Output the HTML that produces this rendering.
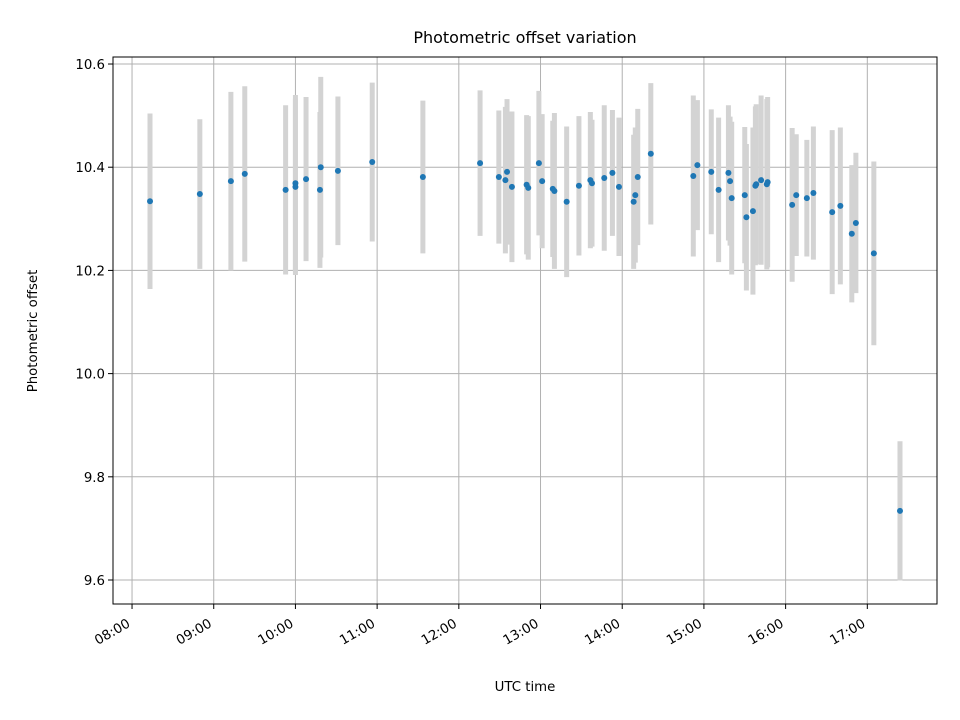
<!DOCTYPE html>
<html><head><meta charset="utf-8"><style>body{margin:0;background:#fff}svg{display:block;font-family:"DejaVu Sans","Liberation Sans",sans-serif}</style></head>
<body>
<svg id="chart" width="960" height="720" viewBox="0 0 960 720" xmlns="http://www.w3.org/2000/svg">
<rect width="960" height="720" fill="#fff"/>
<g id="grid"></g><g id="bars"></g><g id="pts"></g><g id="axes"></g>
<text x="525" y="43" font-size="16" text-anchor="middle">Photometric offset variation</text>
<text x="525" y="691" font-size="13.3" text-anchor="middle">UTC time</text>
<text transform="translate(37,331) rotate(-90)" font-size="13.3" text-anchor="middle">Photometric offset</text>
</svg>
<script>
const times=[8.22,8.83,9.21,9.38,9.88,10.00,10.00,10.13,10.30,10.31,10.52,10.94,11.56,12.26,12.49,12.57,12.59,12.65,12.83,12.85,12.98,13.02,13.15,13.17,13.32,13.47,13.61,13.63,13.78,13.88,13.96,14.14,14.16,14.19,14.35,14.87,14.92,15.09,15.18,15.30,15.32,15.34,15.50,15.52,15.60,15.63,15.64,15.70,15.77,15.78,16.08,16.13,16.26,16.34,16.57,16.67,16.81,16.86,17.08,17.40];
const offsets=[10.334,10.348,10.373,10.387,10.356,10.369,10.362,10.377,10.356,10.400,10.393,10.410,10.381,10.408,10.381,10.375,10.391,10.362,10.366,10.360,10.408,10.373,10.358,10.354,10.333,10.364,10.375,10.369,10.379,10.389,10.362,10.333,10.346,10.381,10.426,10.383,10.404,10.391,10.356,10.389,10.373,10.340,10.346,10.303,10.315,10.364,10.367,10.375,10.367,10.371,10.327,10.346,10.340,10.350,10.313,10.325,10.271,10.292,10.233,9.734];
const errors=[0.170,0.145,0.173,0.170,0.164,0.171,0.171,0.159,0.151,0.175,0.144,0.154,0.148,0.141,0.129,0.142,0.141,0.146,0.135,0.139,0.140,0.130,0.132,0.151,0.146,0.135,0.132,0.123,0.141,0.122,0.134,0.130,0.131,0.132,0.137,0.156,0.126,0.121,0.140,0.131,0.125,0.148,0.132,0.142,0.162,0.154,0.155,0.164,0.165,0.165,0.149,0.118,0.113,0.129,0.159,0.152,0.133,0.136,0.178,0.135];
const yTicks=[9.6,9.8,10.0,10.2,10.4,10.6];
const yTickLabels=["9.6","9.8","10.0","10.2","10.4","10.6"];
const xTicks=[8,9,10,11,12,13,14,15,16,17];
const xTickLabels=["08:00","09:00","10:00","11:00","12:00","13:00","14:00","15:00","16:00","17:00"];
const L=113,R=937,T=57,B=604;
const x0=7.767,x1=17.853,y0=9.5535,y1=10.6136;
const X=h=>L+(h-x0)/(x1-x0)*(R-L);
const Y=v=>B-(v-y0)/(y1-y0)*(B-T);
const NS="http://www.w3.org/2000/svg";
function mk(parent,tag,attrs){const e=document.createElementNS(NS,tag);for(const k in attrs)e.setAttribute(k,attrs[k]);document.getElementById(parent).appendChild(e);return e;}
xTicks.forEach((t,i)=>{const x=X(t);
 const g=mk('grid','line',{x1:x,x2:x,y1:T,y2:B,stroke:'#b0b0b0','stroke-width':1});
 
 
 const tk=mk('axes','line',{x1:x,x2:x,y1:B,y2:B+5,stroke:'#000','stroke-width':1});
 
 
 const tx=mk('axes','text',{x:0,y:0,'font-size':13.3,'text-anchor':'end',transform:`translate(${x-1},${B+22}) rotate(-30)`});
 tx.textContent=xTickLabels[i];
 
 
});
yTicks.forEach((t,i)=>{const y=Y(t);
 const g=mk('grid','line',{x1:L,x2:R,y1:y,y2:y,stroke:'#b0b0b0','stroke-width':1});
 
 
 const tk=mk('axes','line',{x1:L-5,x2:L,y1:y,y2:y,stroke:'#000','stroke-width':1});
 
 
 const tx=mk('axes','text',{x:L-8,y:y+5,'font-size':13.3,'text-anchor':'end'});
 tx.textContent=yTickLabels[i];
 
 
});
times.forEach((t,i)=>{const x=X(t);
 const b=mk('bars','line',{x1:x,x2:x,y1:Y(offsets[i]+errors[i]),y2:Y(offsets[i]-errors[i]),stroke:'#d3d3d3','stroke-width':5});
 
 
 const p=mk('pts','circle',{cx:x,cy:Y(offsets[i]),r:3,fill:'#1f77b4'});
 
 
});
const f=mk('axes','rect',{x:L,y:T,width:R-L,height:B-T,fill:'none',stroke:'#000','stroke-width':1});


</script>
</body></html>
